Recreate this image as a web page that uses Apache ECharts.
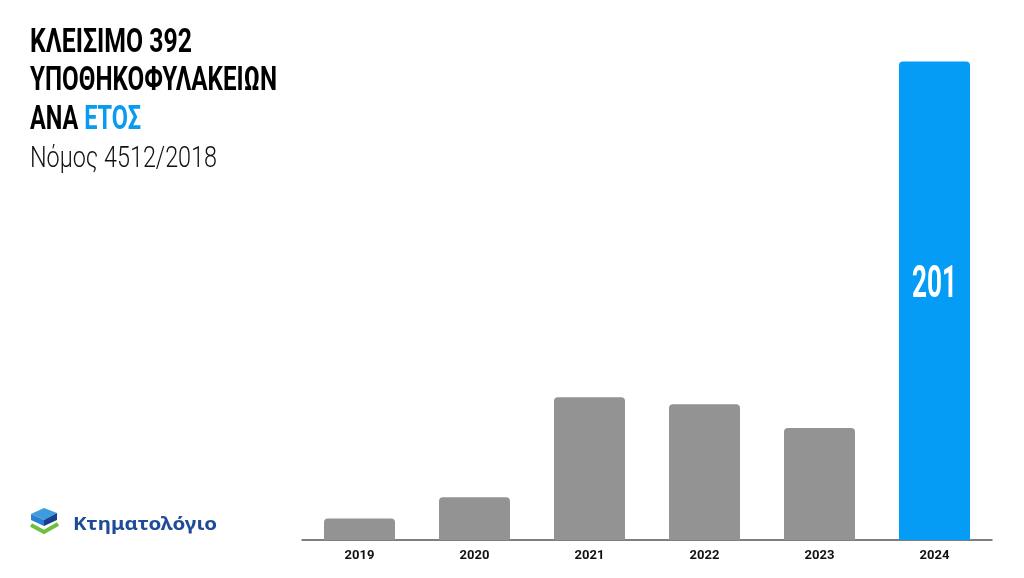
<!DOCTYPE html>
<html>
<head>
<meta charset="utf-8">
<script src="https://cdn.jsdelivr.net/npm/echarts@6/dist/echarts.min.js"></script>
<style>
html,body{margin:0;padding:0;background:#fff;}
#chart{width:1024px;height:578px;}
</style>
</head>
<body>
<div id="chart"></div>
<script>
// ---- data ----
const years = ['2019', '2020', '2021', '2022', '2023', '2024'];
const closures = [9, 18, 60, 57, 47, 201];
const highlightYear = '2024';
const titleLines = ['ΚΛΕΙΣΙΜΟ 392', 'ΥΠΟΘΗΚΟΦΥΛΑΚΕΙΩΝ'];
const titleLine3a = 'ΑΝΑ ';
const titleLine3b = 'ΕΤΟΣ';
const subtitle = 'Νόμος 4512/2018';
const brand = 'Κτηματολόγιο';

// ---- helpers ----
const cv = document.createElement('canvas').getContext('2d');
function measure(text, font) { cv.font = font; return cv.measureText(text).width; }
function fitScale(text, font, target) { return target / measure(text, font); }

const BOLD = 'bold 34px Roboto, "Liberation Sans"';
const LIGHT = '300 30px Roboto, "Liberation Sans"';
const LABEL = 'bold 44px Roboto, "Liberation Sans"';
const BRAND = 'bold 17px "Noto Sans", "Open Sans", sans-serif';

const chart = echarts.init(document.getElementById('chart'), null, { renderer: 'canvas' });

const s1 = fitScale(titleLines[0], BOLD, 162);
const s2 = fitScale(titleLines[1], BOLD, 247);
const s3 = fitScale(titleLine3a + titleLine3b, BOLD, 111);
const s4 = fitScale(subtitle, LIGHT, 187);
const sB = fitScale(brand, BRAND, 144);
const wA = measure(titleLine3a, BOLD) * s3;

function tText(x, y, text, font, fill, sc) {
  return { type: 'text', x: x, y: y, z: 100, scaleX: sc, style: { text: text, font: font, fill: fill, align: 'left', verticalAlign: 'middle' } };
}

const baseGraphics = [
  tText(30, 43, titleLines[0], BOLD, '#000', s1),
  tText(30, 81, titleLines[1], BOLD, '#000', s2),
  tText(30, 120, titleLine3a, BOLD, '#000', s3),
  tText(30 + wA, 120, titleLine3b, BOLD, '#0a9bf0', s3),
  tText(30, 159, subtitle, LIGHT, '#111', s4),
  // logo icon
  { type: 'polygon', shape: { points: [[31,514],[44,508],[57,513],[44,520]] }, style: { fill: '#3d9be0' } },
  { type: 'polygon', shape: { points: [[31,514],[44,520],[44,526],[31,520]] }, style: { fill: '#2b7fd0' } },
  { type: 'polygon', shape: { points: [[44,520],[57,513],[57,520],[44,526]] }, style: { fill: '#173f8a' } },
  { type: 'polyline', shape: { points: [[31,525],[44,532],[58,524]] }, style: { stroke: '#6fbf3f', lineWidth: 4, fill: null } },
  tText(73, 525, brand, BRAND, '#1f4b99', sB)
];

chart.setOption({
  animation: false,
  grid: { left: 302, right: 32, top: 40, bottom: 38 },
  xAxis: {
    type: 'category',
    data: years,
    axisLine: { lineStyle: { color: '#555', width: 1.5 } },
    axisTick: { show: false },
    axisLabel: { color: '#111', fontFamily: 'Roboto', fontWeight: 'bold', fontSize: 13, margin: 9 }
  },
  yAxis: { type: 'value', min: 0, max: 210, show: false, splitLine: { show: false } },
  series: [{
    type: 'bar',
    barWidth: 71,
    z: 2,
    data: closures.map((v, i) => ({
      value: v,
      itemStyle: { color: years[i] === highlightYear ? '#049cf5' : '#939393', borderRadius: [4, 4, 0, 0] }
    }))
  }],
  graphic: baseGraphics
});

// value label for the highlighted bar, placed through the chart's own scales
const hi = years.indexOf(highlightYear);
const hv = closures[hi];
const pt = chart.convertToPixel({ xAxisIndex: 0, yAxisIndex: 0 }, [hi, hv * 0.53]);
const hs = fitScale(String(hv), LABEL, 45);
const lw = measure(String(hv), LABEL) * hs;
baseGraphics.push(tText(pt[0] - lw / 2, pt[1], String(hv), LABEL, '#ffffff', hs));
chart.setOption({ graphic: { elements: baseGraphics } }, { replaceMerge: ['graphic'] });
</script>
</body>
</html>
